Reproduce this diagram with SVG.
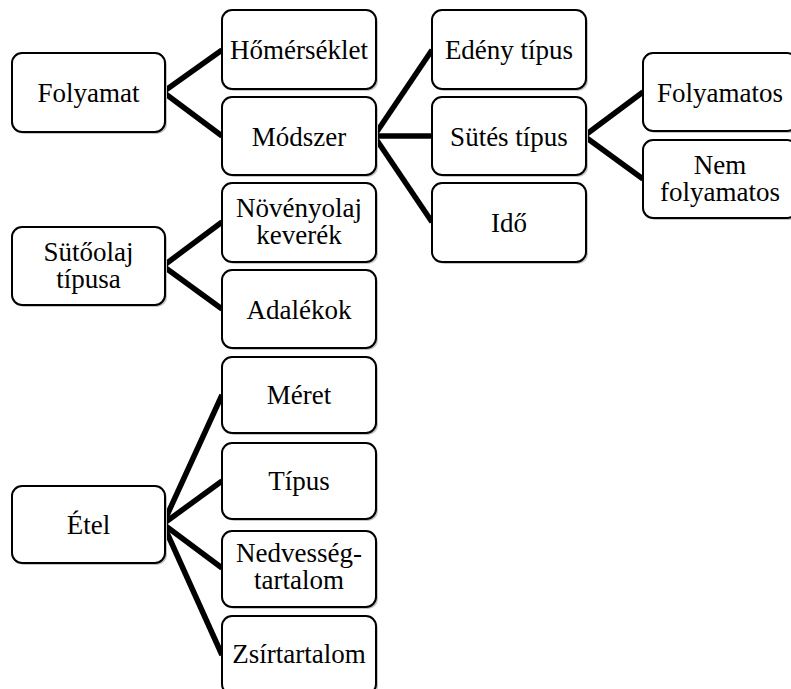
<svg xmlns="http://www.w3.org/2000/svg" width="791" height="689" viewBox="0 0 791 689">
<defs>
<style>
.box{fill:#fff;stroke:#000;stroke-width:2}
.sh{fill:#c4c4c4}
.t{font-family:'Liberation Serif','Times New Roman',serif;font-size:27px;fill:#000;text-anchor:middle}
.c line{stroke:#000;stroke-width:5.5;stroke-linecap:butt}
</style>
</defs>
<rect width="791" height="689" fill="#fff"/>
<g class="c" id="connectors">
<line x1="163" y1="92" x2="222" y2="50"/>
<line x1="163" y1="92" x2="222" y2="136"/>
<line x1="374" y1="136" x2="432" y2="50"/>
<line x1="374" y1="136" x2="432" y2="136"/>
<line x1="374" y1="136" x2="432" y2="222"/>
<line x1="584" y1="136" x2="643" y2="92"/>
<line x1="584" y1="136" x2="643" y2="179"/>
<line x1="163" y1="266" x2="222" y2="222"/>
<line x1="163" y1="266" x2="222" y2="309"/>
<line x1="163" y1="524" x2="222" y2="395"/>
<line x1="163" y1="524" x2="222" y2="481"/>
<line x1="163" y1="524" x2="222" y2="568"/>
<line x1="163" y1="524" x2="222" y2="655"/>
</g>
<g id="folyamat"><rect class="sh" x="14" y="55" width="153" height="79" rx="10"/><rect class="box" x="12" y="53" width="153" height="79" rx="10"/><text class="t" x="88.5" y="102">Folyamat</text></g>
<g id="homerseklet"><rect class="sh" x="224" y="12" width="154" height="79" rx="10"/><rect class="box" x="222" y="10" width="154" height="79" rx="10"/><text class="t" x="299" y="59">Hőmérséklet</text></g>
<g id="modszer"><rect class="sh" x="224" y="99" width="154" height="78" rx="10"/><rect class="box" x="222" y="97" width="154" height="78" rx="10"/><text class="t" x="299" y="145.5">Módszer</text></g>
<g id="edeny"><rect class="sh" x="434" y="12" width="154" height="79" rx="10"/><rect class="box" x="432" y="10" width="154" height="79" rx="10"/><text class="t" x="509" y="59">Edény típus</text></g>
<g id="sutes"><rect class="sh" x="434" y="99" width="154" height="78" rx="10"/><rect class="box" x="432" y="97" width="154" height="78" rx="10"/><text class="t" x="509" y="145.5">Sütés típus</text></g>
<g id="ido"><rect class="sh" x="434" y="185" width="154" height="79" rx="10"/><rect class="box" x="432" y="183" width="154" height="79" rx="10"/><text class="t" x="509" y="231.5">Idő</text></g>
<g id="folyamatos"><rect class="sh" x="645" y="55" width="154" height="78" rx="10"/><rect class="box" x="643" y="53" width="154" height="78" rx="10"/><text class="t" x="720" y="101.5">Folyamatos</text></g>
<g id="nemfolyamatos"><rect class="sh" x="645" y="142" width="154" height="78" rx="10"/><rect class="box" x="643" y="140" width="154" height="78" rx="10"/><text class="t" x="720" y="174">Nem</text><text class="t" x="720" y="201">folyamatos</text></g>
<g id="sutoolaj"><rect class="sh" x="14" y="229" width="153" height="78" rx="10"/><rect class="box" x="12" y="227" width="153" height="78" rx="10"/><text class="t" x="88.5" y="261">Sütőolaj</text><text class="t" x="88.5" y="288">típusa</text></g>
<g id="novenyolaj"><rect class="sh" x="224" y="185" width="154" height="79" rx="10"/><rect class="box" x="222" y="183" width="154" height="79" rx="10"/><text class="t" x="299" y="217">Növényolaj</text><text class="t" x="299" y="244">keverék</text></g>
<g id="adalekok"><rect class="sh" x="224" y="272" width="154" height="78" rx="10"/><rect class="box" x="222" y="270" width="154" height="78" rx="10"/><text class="t" x="299" y="318.5">Adalékok</text></g>
<g id="etel"><rect class="sh" x="14" y="488" width="153" height="77" rx="10"/><rect class="box" x="12" y="486" width="153" height="77" rx="10"/><text class="t" x="88.5" y="534">Étel</text></g>
<g id="meret"><rect class="sh" x="224" y="359" width="154" height="76" rx="10"/><rect class="box" x="222" y="357" width="154" height="76" rx="10"/><text class="t" x="299" y="404">Méret</text></g>
<g id="tipus"><rect class="sh" x="224" y="445" width="154" height="76" rx="10"/><rect class="box" x="222" y="443" width="154" height="76" rx="10"/><text class="t" x="299" y="490">Típus</text></g>
<g id="nedvesseg"><rect class="sh" x="224" y="533" width="154" height="76" rx="10"/><rect class="box" x="222" y="531" width="154" height="76" rx="10"/><text class="t" x="299" y="562">Nedvesség-</text><text class="t" x="299" y="589">tartalom</text></g>
<g id="zsirtartalom"><rect class="sh" x="224" y="618" width="154" height="78" rx="10"/><rect class="box" x="222" y="616" width="154" height="78" rx="10"/><text class="t" x="299" y="663">Zsírtartalom</text></g>
</svg>
